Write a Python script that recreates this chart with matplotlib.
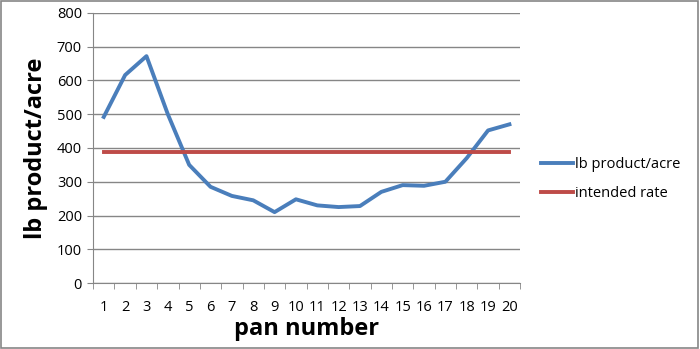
import numpy as np
import matplotlib.pyplot as plt
from matplotlib.patches import Rectangle

plt.rcParams['font.family'] = ['Open Sans', 'DejaVu Sans']

# data
pans = list(range(1, 21))
lb_per_acre = [492, 616, 672, 500, 350, 285, 258, 245, 210, 248,
               230, 225, 228, 270, 290, 288, 300, 370, 452, 470]
intended_rate = [388] * 20
y_ticks = [0, 100, 200, 300, 400, 500, 600, 700, 800]

fig = plt.figure(figsize=(7, 3.49), dpi=100)
ax = fig.add_axes([0.133, 0.189, 0.61, 0.774])

x = np.arange(len(pans))
ax.plot(x, lb_per_acre, color='#4A7EBB', lw=2.8, label='lb product/acre')
ax.plot(x, intended_rate, color='#BE4B48', lw=2.8, label='intended rate')

ax.set_xlim(-0.5, len(pans) - 0.5)
ax.set_ylim(0, 800)
ax.set_yticks(y_ticks)
ax.set_xticks(x)
ax.set_xticklabels([str(p) for p in pans], fontsize=10.5)
ax.set_xticks(np.arange(-0.5, len(pans)), minor=True)
ax.tick_params(axis='x', which='major', length=0, pad=12)
ax.tick_params(axis='x', which='minor', length=4, color='#868686', direction='out')
ax.tick_params(axis='y', length=4, color='#868686', labelsize=10.5, pad=4)
ax.grid(axis='y', color='#868686', lw=1)
ax.set_axisbelow(True)
for s in ['top', 'right']:
    ax.spines[s].set_visible(False)
for s in ['left', 'bottom']:
    ax.spines[s].set_color('#868686')

ax.set_xlabel('pan number', fontsize=17, fontweight='bold', labelpad=2)
ax.set_ylabel('lb product/acre', fontsize=17, fontweight='bold', labelpad=6)

fig.legend(loc='center left', bbox_to_anchor=(0.765, 0.488), frameon=False,
           fontsize=10.5, handlelength=2.2, handletextpad=0.1, labelspacing=0.95,
           borderaxespad=0)

fig.patches.append(Rectangle((0.002, 0.003), 0.995, 0.994, transform=fig.transFigure,
                             fill=False, edgecolor='#868686', lw=1.2))

fig.savefig('out.png', dpi=100)
